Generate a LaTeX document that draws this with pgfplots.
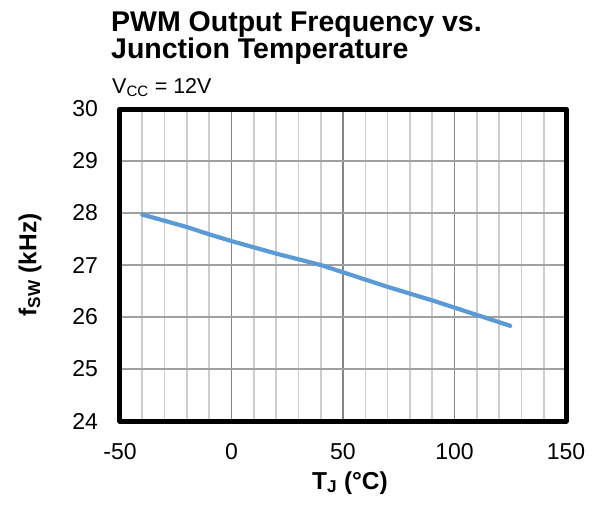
\documentclass[border=0pt]{standalone}
\usepackage{pgfplots}
\pgfplotsset{compat=1.18}
\usepackage{fontspec}
\setmainfont{Liberation Sans}
\definecolor{lineblue}{RGB}{91,155,213}
\definecolor{gridmaj}{RGB}{160,160,160}
\definecolor{gridxmaj}{RGB}{134,134,134}
\definecolor{gridmin}{RGB}{205,205,205}
\pgfplotstableread{
T f
-40 27.97
-30 27.85
-20 27.73
-10 27.59
0 27.46
10 27.34
20 27.22
30 27.11
40 27.00
50 26.86
60 26.72
70 26.58
80 26.45
90 26.32
100 26.18
110 26.04
120 25.90
125 25.83
}\fsw
\begin{document}
\begin{tikzpicture}[x=1pt,y=1pt]
\useasboundingbox (-120,-83) rectangle (477,421);
\begin{axis}[
  at={(0,0)}, anchor=south west,
  scale only axis, width=446pt, height=312pt,
  xmin=-50, xmax=150, ymin=24, ymax=30,
  xtick={-50,0,50,100,150}, ytick={24,25,26,27,28,29,30},
  minor x tick num=4,
  xmajorgrids, xminorgrids, ymajorgrids,
  major x grid style={line width=1.6pt, color=gridxmaj},
  minor x grid style={line width=1.6pt, color=gridmin},
  major y grid style={line width=1.6pt, color=gridmaj},
  major tick length=0pt, minor tick length=0pt,
  axis line style={line width=5pt, line join=round},
  /pgf/number format/assume math mode=true,
  ticklabel style={font=\fontsize{23}{27}\selectfont},
  xticklabel style={yshift=-18.5pt},
  yticklabel style={xshift=-18.5pt},
]
\addplot[lineblue, line width=4.2pt, line cap=round, line join=round] table[x=T, y=f] {\fsw};
\end{axis}
\node[anchor=base west, inner sep=0, font=\fontsize{28.5}{32}\selectfont\bfseries] at (-9,389.3) {PWM Output Frequency vs.};
\node[anchor=base west, inner sep=0, font=\fontsize{28.5}{32}\selectfont\bfseries] at (-9,362.7) {Junction Temperature};
\node[anchor=base west, inner sep=0, font=\fontsize{21.5}{25}\selectfont] at (-8,327.7) {V\textsubscript{CC} = 12V};
\node[anchor=base, inner sep=0, font=\fontsize{24.5}{28}\selectfont\bfseries] at (230,-68) {T\textsubscript{J} (°C)};
\node[anchor=center, inner sep=0, rotate=90, font=\fontsize{24.5}{28}\selectfont\bfseries] at (-90,156) {f\textsubscript{SW} (kHz)};
\end{tikzpicture}
\end{document}
